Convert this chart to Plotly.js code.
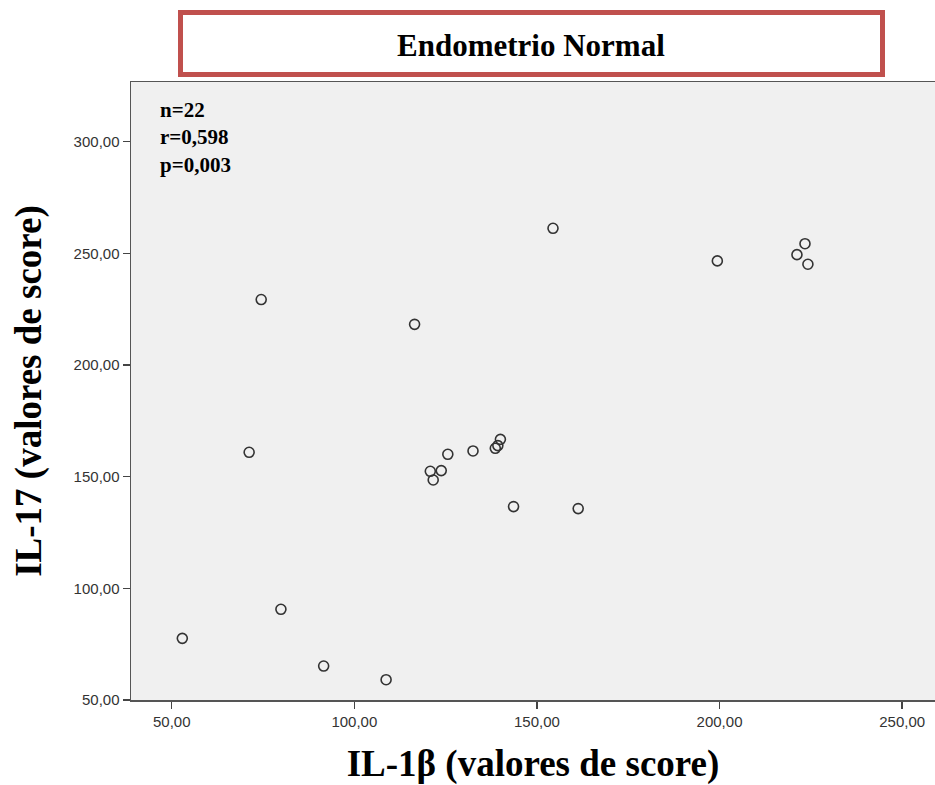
<!DOCTYPE html>
<html>
<head>
<meta charset="utf-8">
<script src="https://cdn.plot.ly/plotly-3.0.1.min.js"></script>
<style>html,body{margin:0;padding:0;background:#fff;}#chart{width:935px;height:785px;}</style>
</head>
<body>
<div id="chart"></div>
<script>
const chartTitle = "Endometrio Normal";
const xTitle = "IL-1β (valores de score)";
const yTitle = "IL-17 (valores de score)";
const statsLines = ["n=22", "r=0,598", "p=0,003"];

const il1b = [52.9, 71.2, 79.9, 91.6, 108.7, 120.8, 121.6, 123.8, 125.6, 132.5, 138.6,
              139.3, 140.0, 143.6, 161.3, 154.4, 74.5, 116.5, 199.4, 223.4, 221.2, 224.2];
const il17 = [77.6, 160.9, 90.6, 65.2, 59.1, 152.4, 148.5, 152.7, 160.0, 161.5, 162.7,
              163.9, 166.7, 136.6, 135.7, 261.2, 229.3, 218.2, 246.6, 254.3, 249.4, 245.1];

const xTicks = [50, 100, 150, 200, 250];
const yTicks = [50, 100, 150, 200, 250, 300];

const trace = {
  x: il1b, y: il17, type: "scatter", mode: "markers",
  marker: {symbol: "circle-open", size: 10, color: "#333333", line: {width: 1.6, color: "#333333"}},
  hoverinfo: "x+y", showlegend: false, cliponaxis: false
};

const serif = "Liberation Serif, Times New Roman, serif";
const sans = "Liberation Sans, Arial, sans-serif";

const layout = {
  width: 935, height: 785,
  margin: {l: 131, r: 0, t: 82, b: 85},
  paper_bgcolor: "#ffffff",
  plot_bgcolor: "#f0f0f0",
  separators: ",.",
  showlegend: false,
  xaxis: {
    range: [38.85, 259],
    tickvals: xTicks, tickformat: ".2f",
    ticks: "outside", ticklen: 7, tickwidth: 1.5, tickcolor: "#444",
    showline: true, linecolor: "#555", linewidth: 1.5, mirror: true,
    showgrid: false, zeroline: false,
    tickfont: {family: sans, size: 15, color: "#333"},
    title: {text: xTitle, font: {family: serif, size: 37, color: "#000", weight: "bold"}, standoff: 21}
  },
  yaxis: {
    range: [50, 326.7],
    tickvals: yTicks, tickformat: ".2f",
    ticks: "outside", ticklen: 7, tickwidth: 1.5, tickcolor: "#444",
    showline: true, linecolor: "#555", linewidth: 1.5, mirror: true,
    showgrid: false, zeroline: false,
    tickfont: {family: sans, size: 15, color: "#333"},
    title: {text: yTitle, font: {family: serif, size: 37, color: "#000", weight: "bold"}, standoff: 20}
  },
  shapes: [{
    type: "rect", xref: "paper", yref: "paper",
    x0: (180.5 - 131) / 804, x1: (882.5 - 131) / 804,
    y0: (700 - 74.5) / 618, y1: (700 - 12.5) / 618,
    line: {color: "#c0504d", width: 5}, fillcolor: "#ffffff", layer: "above"
  }],
  annotations: [
    {text: "<b>" + chartTitle + "</b>", xref: "paper", yref: "paper",
     x: (531 - 131) / 804, y: (700 - 45) / 618, xanchor: "center", yanchor: "middle",
     showarrow: false, font: {family: serif, size: 31, color: "#000"}},
    {text: "<b>" + statsLines.join("<br>") + "</b>", xref: "paper", yref: "paper",
     x: (158 - 131) / 804, y: (700 - 96) / 618, xanchor: "left", yanchor: "top", align: "left",
     showarrow: false, font: {family: serif, size: 21, color: "#000"}}
  ]
};

Plotly.newPlot("chart", [trace], layout, {displayModeBar: false, staticPlot: true});
</script>
</body>
</html>
